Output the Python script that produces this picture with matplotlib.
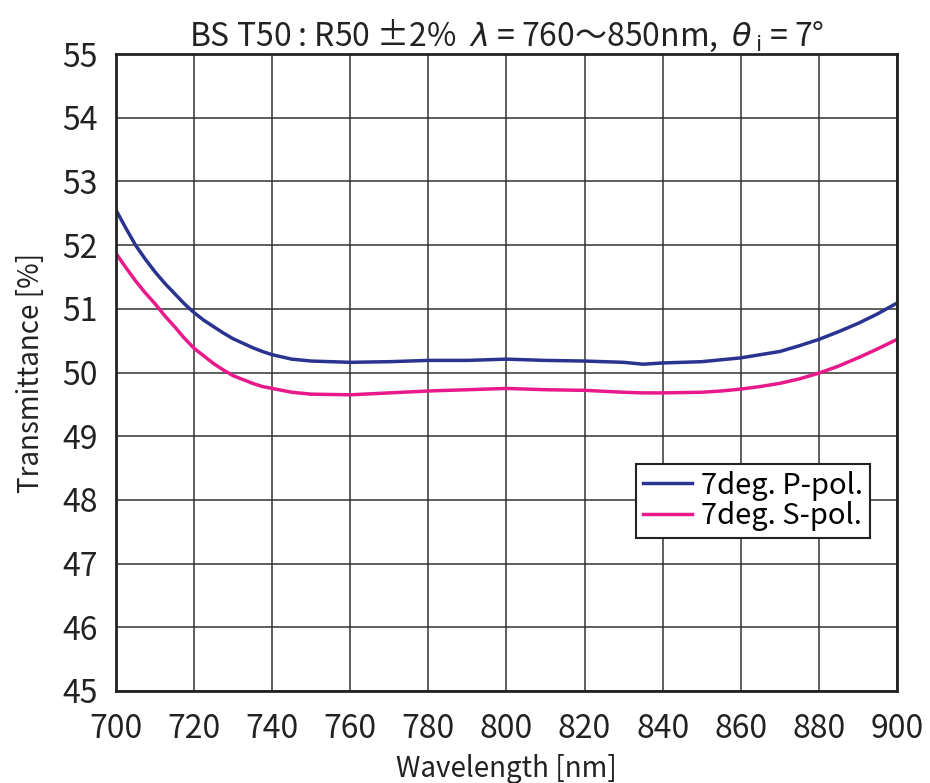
import matplotlib
matplotlib.use("Agg")
import matplotlib.pyplot as plt

# wavelength [nm] and transmittance [%]
wl = [700, 702.5, 705, 707.5, 710, 712.5, 715, 717.5, 720, 722.5, 725, 727.5,
      730, 732.5, 735, 737.5, 740, 745, 750, 760, 770, 780, 790, 800, 810, 820,
      830, 835, 840, 850, 855, 860, 865, 870, 875, 880, 885, 890, 895, 900]
p_pol = [52.55, 52.27, 52.00, 51.78, 51.58, 51.40, 51.24, 51.08, 50.94, 50.82,
         50.72, 50.62, 50.53, 50.46, 50.39, 50.33, 50.28, 50.21, 50.18, 50.16,
         50.17, 50.19, 50.19, 50.21, 50.19, 50.18, 50.16, 50.13, 50.15, 50.17,
         50.20, 50.23, 50.28, 50.33, 50.42, 50.52, 50.64, 50.77, 50.92, 51.09]
s_pol = [51.87, 51.65, 51.44, 51.25, 51.08, 50.89, 50.72, 50.54, 50.38, 50.26,
         50.14, 50.04, 49.95, 49.89, 49.83, 49.78, 49.75, 49.69, 49.66, 49.65,
         49.68, 49.71, 49.73, 49.75, 49.73, 49.72, 49.69, 49.68, 49.68, 49.69,
         49.71, 49.74, 49.78, 49.83, 49.90, 49.99, 50.10, 50.23, 50.37, 50.52]
labels = ["7deg. P-pol.", "7deg. S-pol."]
xticks = list(range(700, 901, 20))
yticks = list(range(45, 56))

plt.rcParams["font.family"] = ["Noto Sans CJK JP", "DejaVu Sans"]

fig = plt.figure(figsize=(9.3, 7.83), dpi=100)
ax = fig.add_axes([0.1247, 0.1175, 0.8398, 0.8135])

ax.plot(wl, p_pol, color="#2B3390", lw=2.5, label=labels[0])
ax.plot(wl, s_pol, color="#E8198B", lw=2.5, label=labels[1])

ax.set_xlim(700, 900)
ax.set_ylim(45, 55)
ax.set_xticks(xticks)
ax.set_yticks(yticks)
ax.grid(True, color="#333333", lw=1.1)
ax.set_axisbelow(True)
ax.tick_params(length=0, labelsize=23, colors="#222222")
ax.tick_params(axis="x", pad=16)
ax.tick_params(axis="y", pad=13)
for sp in ax.spines.values():
    sp.set_linewidth(2)
    sp.set_color("#222222")

ax.set_xlabel("Wavelength [nm]", fontsize=20, color="#222222", labelpad=6)
ax.set_ylabel("Transmittance [%]", fontsize=20, color="#222222", labelpad=12)
ax.set_title(r"BS T50 : R50 ±2%  $\lambda$ = 760〜850nm,  $\theta_{\,\mathrm{i}}$ = 7°",
             fontsize=23, color="#222222", pad=6)

leg = ax.legend(loc="upper right", bbox_to_anchor=(0.965, 0.356), borderaxespad=0,
                fontsize=21, fancybox=False, framealpha=1, edgecolor="#222222",
                handlelength=1.7, handletextpad=0.3, labelspacing=0.02,
                borderpad=0.22)
leg.get_frame().set_linewidth(1.5)

fig.savefig("out.png", dpi=100)
